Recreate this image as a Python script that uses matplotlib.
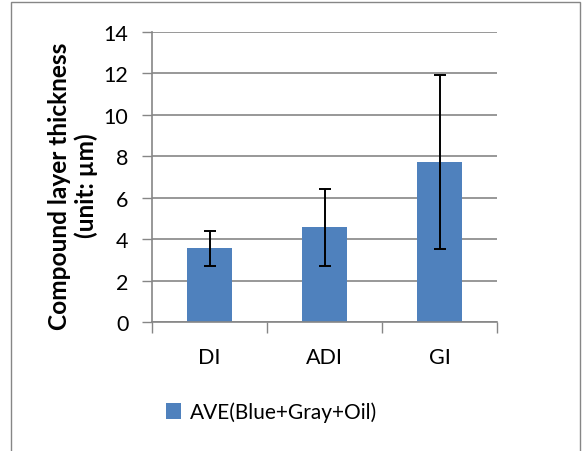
import matplotlib.pyplot as plt
import matplotlib.patches as mpatches
import numpy as np

# %% Data
categories = ["DI", "ADI", "GI"]
ave_values = [3.56, 4.57, 7.73]
err_values = [0.85, 1.85, 4.2]
series_name = "AVE(Blue+Gray+Oil)"

# %% Style
BAR_COLOR = "#4f81bd"
GRID_COLOR = "#868686"
FONT = ["Lato", "DejaVu Sans"]
FONT_SIZE = 15.5

plt.rcParams.update(
    {
        "font.family": FONT,
        "font.size": FONT_SIZE,
        "axes.edgecolor": GRID_COLOR,
        "xtick.color": GRID_COLOR,
        "ytick.color": GRID_COLOR,
        "xtick.labelcolor": "black",
        "ytick.labelcolor": "black",
    }
)

fig = plt.figure(figsize=(5.82, 4.52), dpi=100)
ax = fig.add_axes([152 / 582, 1 - 323 / 452, 345 / 582, 290 / 452])

# outer chart frame
fig.patches.append(
    mpatches.Rectangle(
        (11 / 582, -0.05), 569 / 582, 1 - 3 / 452 + 0.05,
        transform=fig.transFigure, fill=False, edgecolor=GRID_COLOR, linewidth=1,
    )
)

x = np.arange(len(categories))
ax.bar(x, ave_values, width=0.39, color=BAR_COLOR, label=series_name, zorder=2)
ax.errorbar(
    x, ave_values, yerr=err_values, fmt="none", ecolor="black",
    elinewidth=1.4, capsize=4, capthick=1.4, zorder=3,
)

ax.set_xlim(-0.5, len(categories) - 0.5)
ax.set_ylim(0, 14)
ax.set_yticks(np.arange(0, 15, 2))
ax.yaxis.grid(True, color=GRID_COLOR, linewidth=1.2, zorder=0)
ax.set_axisbelow(True)

# category boundary ticks
ax.set_xticks(np.arange(-0.5, len(categories), 1.0))
ax.set_xticklabels([])
ax.set_xticks(x, minor=True)
ax.set_xticklabels(categories, minor=True, fontsize=FONT_SIZE)
ax.tick_params(axis="x", which="major", length=8, width=1)
ax.tick_params(axis="x", which="minor", length=0, pad=18)
ax.tick_params(axis="y", length=7, width=1, labelsize=FONT_SIZE, pad=10)

for side in ["top", "right"]:
    ax.spines[side].set_visible(False)
ax.spines["left"].set_linewidth(1.2)
ax.spines["bottom"].set_linewidth(1.2)

ax.set_ylabel("Compound layer thickness\n(unit: µm)", fontsize=17.6,
              fontweight="bold", linespacing=1.15)
ax.yaxis.set_label_coords(-0.157, 0.472)

leg = fig.legend(
    loc="center left", bbox_to_anchor=(147 / 582, 1 - 413 / 452), frameon=False,
    fontsize=15, handlelength=0.75, handleheight=0.75, handletextpad=0.4,
)

fig.savefig("out.png", dpi=100)
